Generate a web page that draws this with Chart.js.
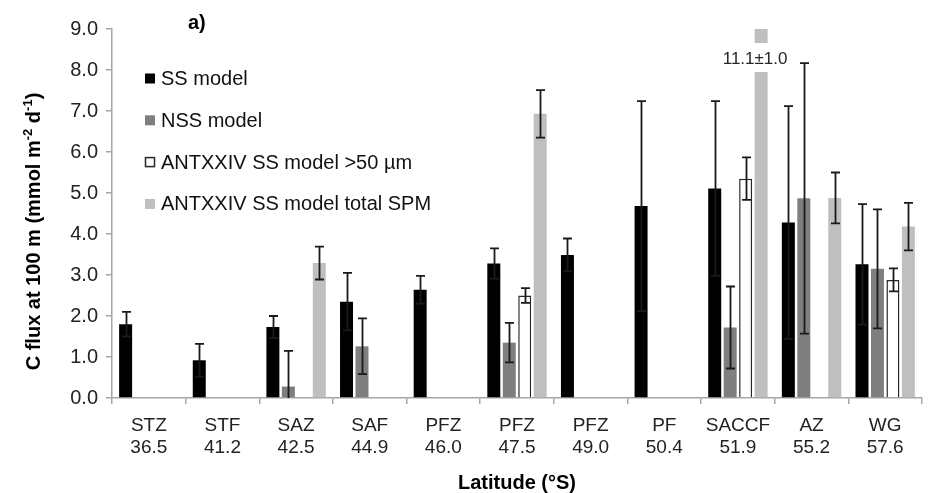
<!DOCTYPE html>
<html>
<head>
<meta charset="utf-8">
<script src="https://cdn.jsdelivr.net/npm/chart.js@4.4.1/dist/chart.umd.min.js"></script>
<style>
  html, body { margin: 0; padding: 0; background: #fff; }
</style>
</head>
<body>
<canvas id="fluxChart" width="941" height="493"></canvas>
<script>
// frontal zones and their latitude (°S)
const zones = ['STZ', 'STF', 'SAZ', 'SAF', 'PFZ', 'PFZ', 'PFZ', 'PF', 'SACCF', 'AZ', 'WG'];
const latitudes = ['36.5', '41.2', '42.5', '44.9', '46.0', '47.5', '49.0', '50.4', '51.9', '55.2', '57.6'];

// C flux at 100 m, mmol m-2 d-1, with standard deviations
const ssModel    = [1.80, 0.92, 1.73, 2.35, 2.64, 3.28, 3.49, 4.68, 5.11, 4.28, 3.26];
const ssModelErr = [0.30, 0.40, 0.27, 0.70, 0.34, 0.37, 0.40, 2.56, 2.13, 2.84, 1.47];

const nssModel    = [null, null, 0.28, 1.26, null, 1.35, null, null, 1.72, 4.87, 3.15];
const nssModelErr = [null, null, 0.87, 0.68, null, 0.48, null, null, 1.00, 3.30, 1.45];

const ant50    = [null, null, null, null, null, 2.50, null, null, 5.35, null, 2.88];
const ant50Err = [null, null, null, null, null, 0.18, null, null, 0.52, null, 0.28];

const antSpm    = [null, null, 3.29, null, null, 6.93, null, null, 11.1, 4.88, 4.18];
const antSpmErr = [null, null, 0.40, null, null, 0.58, null, null, 1.00, 0.62, 0.58];

const yTicks = [0, 1, 2, 3, 4, 5, 6, 7, 8, 9];

const FONT = '"Liberation Sans", Arial, sans-serif';

// vertical error bars, clipped to the plot area
const errorBars = {
  id: 'errorBars',
  afterDatasetsDraw(chart) {
    const { ctx, chartArea: area, scales: { y } } = chart;
    ctx.save();
    ctx.beginPath();
    ctx.rect(area.left, area.top - 1, area.right - area.left, area.bottom - area.top + 1);
    ctx.clip();
    ctx.strokeStyle = '#1a1a1a';
    ctx.lineWidth = 1.8;
    chart.data.datasets.forEach((ds, i) => {
      const meta = chart.getDatasetMeta(i);
      meta.data.forEach((bar, j) => {
        const v = ds.data[j];
        const e = ds.errors[j];
        if (v == null || e == null) return;
        const x = Math.round(bar.x) + 0.5;
        const top = y.getPixelForValue(v + e);
        const bot = y.getPixelForValue(v - e);
        ctx.beginPath();
        ctx.moveTo(x, top);
        ctx.lineTo(x, bot);
        ctx.moveTo(x - 4.5, top);
        ctx.lineTo(x + 4.5, top);
        ctx.moveTo(x - 4.5, bot);
        ctx.lineTo(x + 4.5, bot);
        ctx.stroke();
      });
    });
    ctx.restore();
  }
};

// bars running past the axis get a break with their value written in it
const offScale = {
  id: 'offScale',
  afterDatasetsDraw(chart) {
    const { ctx, chartArea: area, scales: { y } } = chart;
    chart.data.datasets.forEach((ds, i) => {
      const meta = chart.getDatasetMeta(i);
      meta.data.forEach((bar, j) => {
        const v = ds.data[j];
        if (v == null || v <= y.max) return;
        ctx.save();
        ctx.fillStyle = '#fff';
        ctx.fillRect(bar.x - bar.width / 2 - 1, area.top + 14, bar.width + 2, 29);
        ctx.fillStyle = '#262626';
        ctx.font = '17px ' + FONT;
        ctx.textAlign = 'center';
        ctx.textBaseline = 'alphabetic';
        ctx.fillText(v.toFixed(1) + '±' + ds.errors[j].toFixed(1), bar.x - 6, area.top + 35);
        ctx.restore();
      });
    });
  }
};

// legend inside the plot, panel letter and y axis title with superscripts
const decorations = {
  id: 'decorations',
  afterDraw(chart) {
    const { ctx } = chart;
    ctx.save();

    chart.data.datasets.forEach((ds, i) => {
      const cy = 78.5 + i * 41.8;
      ctx.fillStyle = ds.backgroundColor;
      ctx.fillRect(145, cy - 5, 10, 10);
      if (ds.borderWidth) {
        ctx.strokeStyle = ds.borderColor;
        ctx.lineWidth = 1.5;
        ctx.strokeRect(145.5, cy - 4.5, 9, 9);
      }
      ctx.fillStyle = '#111';
      ctx.font = '20px ' + FONT;
      ctx.textAlign = 'left';
      ctx.textBaseline = 'middle';
      ctx.fillText(ds.label, 161, cy + 1);
    });

    ctx.fillStyle = '#000';
    ctx.font = 'bold 20px ' + FONT;
    ctx.textAlign = 'left';
    ctx.textBaseline = 'alphabetic';
    ctx.fillText('a)', 188, 29);

    const parts = [
      ['C flux at 100 m (mmol m', false],
      ['-2', true],
      [' d', false],
      ['-1', true],
      [')', false]
    ];
    const big = 'bold 20px ' + FONT;
    const small = 'bold 13px ' + FONT;
    let total = 0;
    parts.forEach(([t, sup]) => {
      ctx.font = sup ? small : big;
      total += ctx.measureText(t).width;
    });
    ctx.translate(34, 231.5);
    ctx.rotate(-Math.PI / 2);
    ctx.textBaseline = 'middle';
    let x = -total / 2;
    parts.forEach(([t, sup]) => {
      ctx.font = sup ? small : big;
      ctx.fillText(t, x, sup ? -6 : 0);
      x += ctx.measureText(t).width;
    });
    ctx.restore();
  }
};

const axisGrey = '#a6a6a6';

new Chart(document.getElementById('fluxChart'), {
  type: 'bar',
  data: {
    labels: zones.map((z, i) => [z, latitudes[i]]),
    datasets: [
      { label: 'SS model', data: ssModel, errors: ssModelErr,
        backgroundColor: '#000000', borderWidth: 0 },
      { label: 'NSS model', data: nssModel, errors: nssModelErr,
        backgroundColor: '#7f7f7f', borderWidth: 0 },
      { label: 'ANTXXIV SS model >50 µm', data: ant50, errors: ant50Err,
        backgroundColor: '#ffffff', borderColor: '#262626', borderWidth: 1.5 },
      { label: 'ANTXXIV SS model total SPM', data: antSpm, errors: antSpmErr,
        backgroundColor: '#bfbfbf', borderWidth: 0 }
    ]
  },
  options: {
    responsive: false,
    animation: false,
    devicePixelRatio: 1,
    categoryPercentage: 0.84,
    barPercentage: 0.84,
    layout: { padding: { top: 29, right: 19, left: 0, bottom: 0 } },
    plugins: {
      legend: { display: false },
      tooltip: { enabled: false }
    },
    scales: {
      x: {
        grid: { offset: true, drawOnChartArea: false, drawTicks: true, tickLength: 6, color: axisGrey, lineWidth: 1.5 },
        border: { color: axisGrey, width: 1.5 },
        ticks: { color: '#222', font: { family: FONT, size: 19, lineHeight: 22 / 19 }, padding: 11, maxRotation: 0, autoSkip: false },
        title: { display: true, text: 'Latitude (°S)', color: '#000',
                 font: { family: FONT, size: 20, weight: 'bold', lineHeight: 1 }, padding: 0 },
        afterFit: s => { s.height = 95; }
      },
      y: {
        min: yTicks[0],
        max: yTicks[yTicks.length - 1],
        afterBuildTicks: s => { s.ticks = yTicks.map(v => ({ value: v })); },
        grid: { drawOnChartArea: false, drawTicks: true, tickLength: 6, color: axisGrey, lineWidth: 1.5 },
        border: { color: axisGrey, width: 1.5 },
        ticks: { color: '#222', font: { family: FONT, size: 20 }, padding: 8,
                 callback: v => Number(v).toFixed(1) },
        afterFit: s => { s.width = 112; }
      }
    }
  },
  plugins: [errorBars, offScale, decorations]
});
</script>
</body>
</html>
